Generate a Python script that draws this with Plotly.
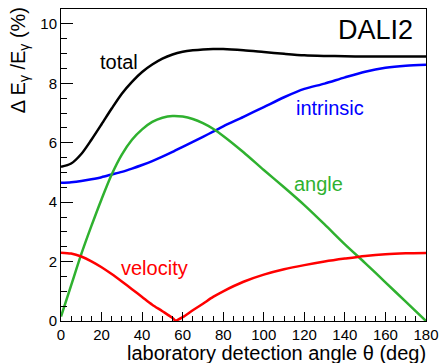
import plotly.graph_objects as go

# Laboratory detection angle (deg)
theta = [0, 5, 10, 15, 20, 25, 30, 35, 40, 45, 50, 55, 60, 65, 70, 75, 80,
         90, 100, 110, 120, 130, 140, 150, 160, 170, 180]

# Energy resolution contributions, Delta E / E (%)
total = [5.19, 5.30, 5.62, 6.10, 6.62, 7.15, 7.65, 8.05, 8.38, 8.63, 8.83, 8.97,
         9.06, 9.11, 9.14, 9.15, 9.15, 9.11, 9.05, 8.99, 8.94, 8.92, 8.91, 8.90,
         8.90, 8.90, 8.90]
intrinsic = [4.65, 4.67, 4.71, 4.77, 4.84, 4.93, 5.02, 5.13, 5.25, 5.38, 5.53, 5.69,
             5.86, 6.03, 6.20, 6.37, 6.55, 6.87, 7.20, 7.53, 7.81, 7.99, 8.20, 8.39,
             8.52, 8.59, 8.62]
angle = [0.15, 1.20, 2.25, 3.20, 4.10, 4.93, 5.60, 6.10, 6.45, 6.70, 6.84, 6.90,
         6.88, 6.80, 6.66, 6.47, 6.23, 5.68, 5.08, 4.50, 3.90, 3.25, 2.58, 1.95,
         1.30, 0.65, 0.00]

# Doppler (velocity) term has a cusp where it vanishes
theta_v = [0, 5, 10, 15, 20, 25, 30, 35, 40, 45, 50, 55, 56.5, 60, 65, 70, 75, 80,
           90, 100, 110, 120, 130, 140, 150, 160, 170, 180]
velocity = [2.30, 2.27, 2.17, 2.01, 1.81, 1.58, 1.33, 1.07, 0.81, 0.55, 0.33, 0.10,
            0.00, 0.13, 0.36, 0.58, 0.81, 1.00, 1.32, 1.56, 1.74, 1.88, 2.00, 2.10,
            2.19, 2.25, 2.28, 2.29]

BLACK = "#000000"
BLUE = "#0000ff"
GREEN = "#2fb12f"
RED = "#ff0000"
FONT = "Liberation Sans, Arial, Helvetica, sans-serif"


def smooth(x, y, color):
    return go.Scatter(x=x, y=y, mode="lines", hoverinfo="x+y",
                      line=dict(color=color, width=2.5, shape="spline", smoothing=0.8))


fig = go.Figure()
fig.add_trace(smooth(theta, total, BLACK))
fig.add_trace(smooth(theta, intrinsic, BLUE))
fig.add_trace(smooth(theta, angle, GREEN))

# velocity drawn as two smooth branches meeting at the zero crossing
cusp = velocity.index(min(velocity))
fig.add_trace(smooth(theta_v[:cusp + 1], velocity[:cusp + 1], RED))
fig.add_trace(smooth(theta_v[cusp:], velocity[cusp:], RED))

labels = [
    ("total", 28.8, 8.73, BLACK),
    ("intrinsic", 132.9, 7.16, BLUE),
    ("angle", 127.0, 4.61, GREEN),
    ("velocity", 45.9, 1.77, RED),
]
for text, x, y, c in labels:
    fig.add_annotation(x=x, y=y, text=text, showarrow=False,
                       font=dict(family=FONT, size=20, color=c),
                       xanchor="center", yanchor="middle")

fig.add_annotation(x=154.9, y=9.81, text="DALI2", showarrow=False,
                   font=dict(family=FONT, size=27, color=BLACK),
                   xanchor="center", yanchor="middle")

# Axis titles, aligned to the axis ends
fig.add_annotation(xref="paper", yref="paper", x=1.003, y=-0.102,
                   text="laboratory detection angle θ (deg)", showarrow=False,
                   font=dict(family=FONT, size=20, color=BLACK),
                   height=21, valign="middle", borderpad=0,
                   xanchor="right", yanchor="middle")
fig.add_annotation(xref="paper", yref="paper", x=-0.114, y=0.837,
                   text="Δ E<sub>γ</sub> /E<sub>γ</sub> (%)", showarrow=False,
                   textangle=-90,
                   font=dict(family=FONT, size=20, color=BLACK),
                   xanchor="center", yanchor="middle")

fig.update_layout(
    width=447, height=363,
    margin=dict(l=61, r=17, t=8, b=42),
    paper_bgcolor="white", plot_bgcolor="white",
    showlegend=False,
    font=dict(family=FONT, size=15, color=BLACK),
)
fig.update_xaxes(
    range=[0, 180], tickmode="linear", tick0=0, dtick=20,
    ticks="inside", ticklen=9, tickwidth=1, tickcolor=BLACK,
    minor=dict(ticks="inside", dtick=5, ticklen=5, tickwidth=1, tickcolor=BLACK),
    showline=True, linecolor=BLACK, linewidth=1, mirror=True,
    showgrid=False, zeroline=False,
    tickfont=dict(family=FONT, size=15, color=BLACK),
)
fig.update_yaxes(
    range=[0, 10.5], tickmode="linear", tick0=0, dtick=2,
    ticks="inside", ticklen=12, tickwidth=1, tickcolor=BLACK,
    minor=dict(ticks="inside", dtick=0.5, ticklen=6, tickwidth=1, tickcolor=BLACK),
    showline=True, linecolor=BLACK, linewidth=1, mirror=True,
    showgrid=False, zeroline=False,
    tickfont=dict(family=FONT, size=15, color=BLACK),
)

fig.write_html("out.html")
